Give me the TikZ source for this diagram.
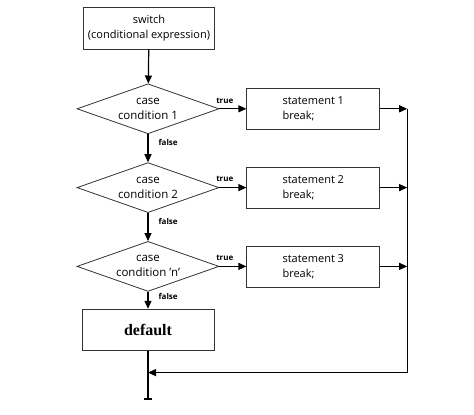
\documentclass[tikz,border=0pt]{standalone}
\usepackage{fontspec}
\setmainfont{Open Sans}
\newfontfamily\defaultserif{Liberation Serif}
\usetikzlibrary{shapes.geometric, arrows.meta}
\usetikzlibrary{positioning}
\tikzstyle{process} = [rectangle, minimum width=131pt, minimum height=42pt, text centered, align=center, draw=black!80, line width=0.8pt, font=\fontsize{11}{15}\selectfont]
\tikzstyle{decision} = [diamond, aspect=2.8, minimum width=142pt, minimum height=50pt, inner sep=0pt, text centered, align=center, draw=black!80, line width=0.8pt, font=\fontsize{11.5}{15}\selectfont]
\tikzstyle{stmt} = [process, minimum width=133pt, minimum height=41pt, align=left]
\tikzstyle{arrow} = [line width=1.2pt, -{Triangle[length=8pt,width=7pt]}]
\tikzstyle{branch} = [font=\bfseries\fontsize{8}{9}\selectfont, inner sep=2pt]

\begin{document}
\begin{tikzpicture}[x=1pt, y=-1pt, node distance=28pt]
  \useasboundingbox (0,0) rectangle (474,415);
  \node (switch) [process] at (149,28) {switch\\(conditional expression)};

  \node (case1) [decision, below=34pt of switch, xshift=-1pt] {case\\condition 1};
  \node (case2) [decision, below=of case1] {case\\condition 2};
  \node (case3) [decision, below=of case2] {case\\condition 'n'};
  \node (default) [process, below=17pt of case3, minimum width=132pt, minimum height=41pt,
  font=\defaultserif\bfseries\fontsize{16}{18}\selectfont] {default};

  \node (stmt1) [stmt, right=27pt of case1] {statement 1\\break;};
  \node (stmt2) [stmt, right=27pt of case2] {statement 2\\break;};
  \node (stmt3) [stmt, right=27pt of case3] {statement 3\\break;};

  \coordinate [right=27pt of stmt3] (rail);
  \coordinate [below=22pt of default] (merge);
  \coordinate [below=27pt of merge] (stop);

  \draw [arrow] (switch) -- (case1);
  \draw [arrow] (case1) -- node [branch, pos=0.3, right, xshift=8pt] {false} (case2);
  \draw [arrow] (case2) -- node [branch, pos=0.3, right, xshift=8pt] {false} (case3);
  \draw [arrow] (case3) -- node [branch, pos=0.3, right, xshift=8pt] {false} (default);

  \foreach \i in {1,2,3} {
    \draw [arrow] (case\i) -- node [branch, pos=0.2, above, yshift=3pt] {true} (stmt\i);
    \draw [arrow] (stmt\i) -- (stmt\i -| rail);
  }
  \draw [arrow] (stmt1 -| rail) |- (merge);
  \draw [line width=1.2pt, -|] (default) -- (stop);
\end{tikzpicture}
\end{document}
